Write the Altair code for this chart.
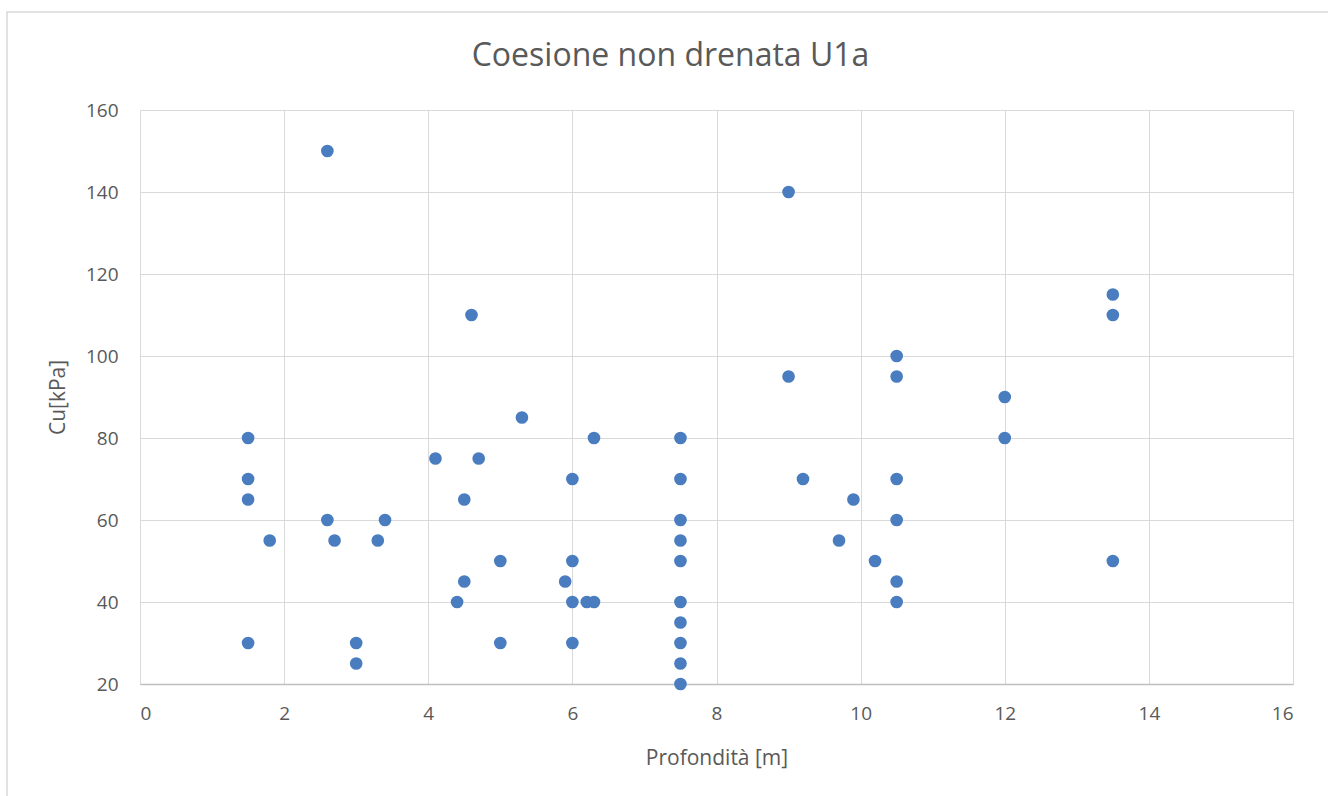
import altair as alt
import pandas as pd

depth = [1.5, 1.5, 1.5, 1.5, 1.8, 2.6, 2.6, 2.7, 3.0, 3.0, 3.3, 3.4,
         4.1, 4.4, 4.5, 4.5, 4.6, 4.7, 5.0, 5.0, 5.3, 5.9,
         6.0, 6.0, 6.0, 6.0, 6.2, 6.3, 6.3,
         7.5, 7.5, 7.5, 7.5, 7.5, 7.5, 7.5, 7.5, 7.5, 7.5,
         9.0, 9.0, 9.2, 9.7, 9.9, 10.2,
         10.5, 10.5, 10.5, 10.5, 10.5, 10.5,
         12.0, 12.0, 13.5, 13.5, 13.5]
cu = [80, 70, 65, 30, 55, 150, 60, 55, 30, 25, 55, 60,
      75, 40, 65, 45, 110, 75, 50, 30, 85, 45,
      70, 50, 40, 30, 40, 40, 80,
      80, 70, 60, 55, 50, 40, 35, 30, 25, 20,
      140, 95, 70, 55, 65, 50,
      100, 95, 70, 60, 45, 40,
      90, 80, 115, 110, 50]

x_ticks = [0, 2, 4, 6, 8, 10, 12, 14, 16]
y_ticks = [20, 40, 60, 80, 100, 120, 140, 160]

df = pd.DataFrame({"Profondità": depth, "Cu": cu})

FONT = "Open Sans"
GRAY = "#595959"

points = alt.Chart(df).mark_circle(size=160, color="#4a7dbf", opacity=1).encode(
    x=alt.X("Profondità:Q",
            scale=alt.Scale(domain=[0, 16], nice=False, zero=False),
            axis=alt.Axis(values=x_ticks, title="Profondità [m]", ticks=False,
                          labelPadding=20, titlePadding=24,
                          domainColor="#bfbfbf", domainWidth=1.5,
                          gridColor="#d9d9d9")),
    y=alt.Y("Cu:Q",
            scale=alt.Scale(domain=[20, 160], nice=False, zero=False),
            axis=alt.Axis(values=y_ticks, title="Cu[kPa]", ticks=False,
                          labelPadding=22, titlePadding=17, domain=False,
                          gridColor="#d9d9d9")),
)

border = alt.Chart(pd.DataFrame({"a": [0]})).mark_rect(
    fill=None, stroke="#d9d9d9", strokeWidth=1.5
).encode(x=alt.value(-133), x2=alt.value(1200), y=alt.value(-98), y2=alt.value(700))

chart = alt.layer(border, points).properties(
    width=1153,
    height=574,
    background="white",
    padding={"left": 140, "top": 110, "right": 35, "bottom": 112},
    autosize=alt.AutoSizeParams(type="none"),
    title=alt.TitleParams("Coesione non drenata U1a", fontSize=32, font=FONT,
                          fontWeight="normal", color=GRAY, anchor="middle",
                          dx=-46, dy=62, offset=0),
).configure_view(stroke=None).configure_axis(
    labelFont=FONT, titleFont=FONT, labelFontSize=19, titleFontSize=21,
    labelColor=GRAY, titleColor=GRAY, titleFontWeight="normal"
)

chart.save("out.html", embed_options={"renderer": "svg", "actions": False})
